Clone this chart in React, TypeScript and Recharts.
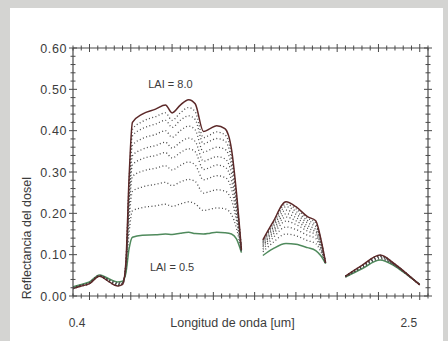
import { LineChart, Line, XAxis, YAxis, ReferenceDot } from 'recharts'

// longitud de onda (um)
const wavelengths = [
  0.4, 0.45, 0.5, 0.56, 0.62, 0.67, 0.7, 0.72, 0.74, 0.76,
  0.82, 0.9, 0.96, 1.0, 1.05, 1.1, 1.14, 1.19, 1.23, 1.27, 1.32, 1.36, 1.39, 1.42,
  1.48,
  1.55, 1.61, 1.69, 1.75, 1.82, 1.87, 1.9, 1.93,
  2.0,
  2.05, 2.15, 2.26, 2.35, 2.45, 2.5,
]

// reflectancia del dosel por LAI (null = banda de absorción del agua)
const lai05 = [
  0.022, 0.028, 0.034, 0.051, 0.041, 0.034, 0.036, 0.055, 0.115, 0.142,
  0.147, 0.148, 0.15, 0.149, 0.152, 0.154, 0.151, 0.15, 0.152, 0.154, 0.153, 0.15, 0.138, 0.105,
  null,
  0.098, 0.114, 0.127, 0.125, 0.117, 0.11, 0.098, 0.078,
  null,
  0.046, 0.066, 0.087, 0.072, 0.043, 0.028,
]
const lai10 = [
  0.021, 0.027, 0.033, 0.05, 0.039, 0.032, 0.034, 0.061, 0.155, 0.206,
  0.214, 0.218, 0.222, 0.217, 0.223, 0.228, 0.223, 0.207, 0.21, 0.213, 0.211, 0.197, 0.164, 0.107,
  null,
  0.107, 0.129, 0.15, 0.146, 0.134, 0.127, 0.108, 0.078,
  null,
  0.046, 0.068, 0.09, 0.073, 0.043, 0.028,
]
const lai15 = [
  0.02, 0.026, 0.032, 0.05, 0.038, 0.03, 0.033, 0.065, 0.185, 0.253,
  0.264, 0.27, 0.275, 0.267, 0.276, 0.282, 0.277, 0.249, 0.253, 0.257, 0.254, 0.232, 0.183, 0.108,
  null,
  0.113, 0.14, 0.167, 0.161, 0.147, 0.139, 0.115, 0.079,
  null,
  0.047, 0.069, 0.092, 0.074, 0.043, 0.028,
]
const lai20 = [
  0.02, 0.026, 0.032, 0.049, 0.037, 0.029, 0.032, 0.068, 0.208, 0.289,
  0.302, 0.309, 0.315, 0.305, 0.316, 0.324, 0.317, 0.281, 0.286, 0.291, 0.287, 0.259, 0.197, 0.109,
  null,
  0.118, 0.148, 0.181, 0.173, 0.157, 0.148, 0.12, 0.079,
  null,
  0.047, 0.07, 0.093, 0.075, 0.044, 0.028,
]
const lai25 = [
  0.019, 0.025, 0.031, 0.049, 0.037, 0.028, 0.031, 0.071, 0.225, 0.317,
  0.332, 0.34, 0.347, 0.334, 0.347, 0.356, 0.349, 0.306, 0.311, 0.317, 0.312, 0.279, 0.209, 0.109,
  null,
  0.122, 0.154, 0.191, 0.182, 0.164, 0.155, 0.124, 0.079,
  null,
  0.047, 0.071, 0.095, 0.075, 0.044, 0.027,
]
const lai30 = [
  0.019, 0.025, 0.031, 0.049, 0.036, 0.027, 0.03, 0.073, 0.239, 0.339,
  0.355, 0.364, 0.372, 0.358, 0.372, 0.382, 0.374, 0.326, 0.332, 0.337, 0.332, 0.296, 0.218, 0.11,
  null,
  0.125, 0.159, 0.199, 0.19, 0.17, 0.161, 0.128, 0.079,
  null,
  0.047, 0.072, 0.096, 0.076, 0.044, 0.027,
]
const lai40 = [
  0.019, 0.025, 0.031, 0.049, 0.035, 0.026, 0.03, 0.075, 0.255, 0.364,
  0.381, 0.391, 0.4, 0.384, 0.4, 0.411, 0.402, 0.348, 0.354, 0.36, 0.355, 0.314, 0.228, 0.111,
  null,
  0.128, 0.165, 0.208, 0.198, 0.177, 0.168, 0.132, 0.08,
  null,
  0.048, 0.072, 0.097, 0.076, 0.044, 0.027,
]
const lai50 = [
  0.018, 0.024, 0.03, 0.048, 0.035, 0.025, 0.029, 0.077, 0.269, 0.387,
  0.405, 0.416, 0.425, 0.408, 0.425, 0.436, 0.427, 0.368, 0.375, 0.381, 0.375, 0.33, 0.237, 0.111,
  null,
  0.131, 0.17, 0.216, 0.205, 0.183, 0.173, 0.135, 0.08,
  null,
  0.048, 0.073, 0.098, 0.076, 0.044, 0.027,
]
const lai60 = [
  0.018, 0.024, 0.03, 0.048, 0.034, 0.025, 0.028, 0.079, 0.28, 0.403,
  0.422, 0.434, 0.443, 0.425, 0.443, 0.456, 0.446, 0.383, 0.39, 0.397, 0.39, 0.343, 0.243, 0.112,
  null,
  0.134, 0.174, 0.222, 0.211, 0.188, 0.178, 0.138, 0.08,
  null,
  0.048, 0.074, 0.098, 0.077, 0.044, 0.027,
]
const lai80 = [
  0.018, 0.024, 0.03, 0.048, 0.034, 0.024, 0.028, 0.08, 0.29, 0.42,
  0.44, 0.452, 0.462, 0.443, 0.462, 0.475, 0.465, 0.398, 0.405, 0.412, 0.405, 0.355, 0.25, 0.112,
  null,
  0.136, 0.178, 0.228, 0.216, 0.192, 0.182, 0.14, 0.08,
  null,
  0.048, 0.074, 0.099, 0.077, 0.044, 0.027,
]

const xLabelValues = [0.4, 2.5]
const xTicks = Array.from({ length: 44 }, (_, i) => Math.round((0.4 + i * 0.05) * 100) / 100)
const yTicks = Array.from({ length: 31 }, (_, i) => Math.round(i * 2) / 100)

const font = '"Liberation Sans", Arial, sans-serif'
const textColor = '#3c3c3c'
const axisColor = '#4a4a4a'

const series = [
  { key: 'lai05', values: lai05, kind: 'green' },
  { key: 'lai10', values: lai10, kind: 'dots' },
  { key: 'lai15', values: lai15, kind: 'dots' },
  { key: 'lai20', values: lai20, kind: 'dots' },
  { key: 'lai25', values: lai25, kind: 'dots' },
  { key: 'lai30', values: lai30, kind: 'dots' },
  { key: 'lai40', values: lai40, kind: 'dots' },
  { key: 'lai50', values: lai50, kind: 'dots' },
  { key: 'lai60', values: lai60, kind: 'dots' },
  { key: 'lai80', values: lai80, kind: 'top' },
]

const data = wavelengths.map((w, i) => {
  const row: Record<string, number | null> = { w }
  series.forEach((s) => (row[s.key] = s.values[i]))
  return row
})

function XTick(props: any) {
  const { x, y, payload, top } = props
  const v = Math.round(payload.value * 100)
  const len = v % 25 === 0 ? 4 : 2.5
  const showLabel = !top && xLabelValues.some((l) => Math.round(l * 100) === v)
  return (
    <g>
      <line x1={x} x2={x} y1={y - len} y2={y + len} stroke={axisColor} strokeWidth={1} />
      {showLabel && (
        <text
          x={v === 250 ? x - 11 : x + 4}
          y={y + 31}
          textAnchor="middle"
          fontSize={12}
          fontFamily={font}
          fill={textColor}
        >
          {payload.value.toFixed(1)}
        </text>
      )}
    </g>
  )
}

function YTick(props: any) {
  const { x, y, payload, right } = props
  const v = Math.round(payload.value * 100)
  const major = v % 10 === 0
  const len = major ? 4 : 2.5
  return (
    <g>
      <line x1={x - len} x2={x + len} y1={y} y2={y} stroke={axisColor} strokeWidth={1} />
      {major && !right && (
        <text
          x={x - 6}
          y={y + 4.5}
          textAnchor="end"
          fontSize={12.5}
          letterSpacing={0.6}
          fontFamily={font}
          fill={textColor}
        >
          {payload.value.toFixed(2)}
        </text>
      )}
    </g>
  )
}

export default function App() {
  return (
    <div style={{ position: 'absolute', left: 0, top: 0, width: 448, height: 341, background: '#d4d4d2' }}>
      <div style={{ position: 'absolute', left: 10, top: 8, width: 433, height: 333, background: '#ffffff' }} />
      <div style={{ position: 'absolute', left: 0, top: 0 }}>
        <LineChart width={448} height={341} data={data} margin={{ top: 47, right: 19, bottom: 44, left: 72 }}>
          <XAxis
            dataKey="w"
            type="number"
            domain={[0.4, 2.55]}
            ticks={xTicks}
            interval={0}
            height={1}
            tickSize={0}
            tickMargin={0}
            tickLine={false}
            tick={<XTick />}
            axisLine={{ stroke: axisColor, strokeWidth: 1.2 }}
            allowDataOverflow
            label={{
              value: 'Longitud de onda [um]',
              position: 'bottom',
              offset: 21,
              dx: -18,
              fontSize: 12.5,
              fontFamily: font,
              fill: textColor,
            }}
          />
          <XAxis
            xAxisId="top"
            orientation="top"
            dataKey="w"
            type="number"
            domain={[0.4, 2.55]}
            ticks={xTicks}
            interval={0}
            height={1}
            tickSize={0}
            tickMargin={0}
            tickLine={false}
            tick={<XTick top />}
            axisLine={{ stroke: axisColor, strokeWidth: 1.2 }}
            allowDataOverflow
          />
          <YAxis
            type="number"
            domain={[0, 0.6]}
            ticks={yTicks}
            interval={0}
            width={1}
            tickSize={0}
            tickMargin={0}
            tickLine={false}
            tick={<YTick />}
            axisLine={{ stroke: axisColor, strokeWidth: 1.2 }}
            allowDataOverflow
            label={{
              value: 'Reflectancia del dosel',
              angle: -90,
              position: 'left',
              offset: 45,
              dy: 5,
              fontSize: 12.5,
              fontFamily: font,
              fill: textColor,
            }}
          />
          <YAxis
            yAxisId="right"
            orientation="right"
            type="number"
            domain={[0, 0.6]}
            ticks={yTicks}
            interval={0}
            width={1}
            tickSize={0}
            tickMargin={0}
            tickLine={false}
            tick={<YTick right />}
            axisLine={{ stroke: axisColor, strokeWidth: 1.2 }}
            allowDataOverflow
          />
          {series.map((s) => (
            <Line
              key={s.key}
              type="monotone"
              dataKey={s.key}
              stroke={s.kind === 'green' ? '#4f8a5c' : s.kind === 'top' ? '#5b2828' : '#4a4a4a'}
              strokeWidth={s.kind === 'dots' ? 1.3 : 1.5}
              strokeDasharray={s.kind === 'dots' ? '1 2.4' : undefined}
              dot={false}
              activeDot={false}
              isAnimationActive={false}
            />
          ))}
          <ReferenceDot
            x={0.99}
            y={0.513}
            r={1}
            fill="none"
            stroke="none"
            label={{ value: 'LAI = 8.0', position: 'center', fontSize: 11, fontFamily: font, fill: textColor }}
          />
          <ReferenceDot
            x={1.0}
            y={0.07}
            r={1}
            fill="none"
            stroke="none"
            label={{ value: 'LAI = 0.5', position: 'center', fontSize: 11, fontFamily: font, fill: textColor }}
          />
        </LineChart>
      </div>
    </div>
  )
}
